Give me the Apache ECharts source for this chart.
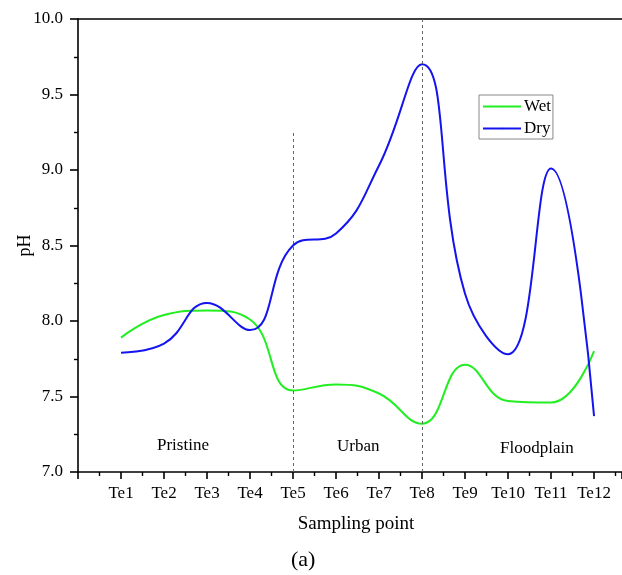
<!DOCTYPE html>
<html><head><meta charset="utf-8">
<script src="https://cdn.jsdelivr.net/npm/echarts@6/dist/echarts.min.js"></script>
<style>html,body{margin:0;padding:0;background:#fff}#c{width:622px;height:575px}</style>
</head><body><div id="c"></div>
<script>
const categories = ['Te1','Te2','Te3','Te4','Te5','Te6','Te7','Te8','Te9','Te10','Te11','Te12'];
const wet = [7.89, 8.04, 8.07, 8.01, 7.54, 7.58, 7.52, 7.32, 7.71, 7.47, 7.46, 7.80];
const dry = [7.79, 7.85, 8.12, 7.94, 8.50, 8.58, 9.03, 9.70, 8.18, 7.78, 9.01, 7.37];
const yTicks = [7.0, 7.5, 8.0, 8.5, 9.0, 9.5, 10.0];
const regions = ['Pristine', 'Urban', 'Floodplain'];

const font = 'Liberation Serif, Times New Roman, serif';
const chart = echarts.init(document.getElementById('c'), null, {renderer:'canvas'});
const toPts = arr => arr.map((v,i)=>[i+1, v]);
chart.setOption({
  animation:false,
  textStyle:{fontFamily:font},
  grid:{left:78, right:0, top:19, bottom:103, containLabel:false, outerBoundsMode:'none'},
  legend:{
    data:['Wet','Dry'], orient:'vertical', left:479, top:95,
    itemWidth:38, itemHeight:2, itemGap:5,
    borderColor:'#888', borderWidth:1, padding:[3,2,2,3], borderRadius:0,
    textStyle:{fontFamily:font, fontSize:17, color:'#000', padding:[0,0,0,-2]}
  },
  xAxis:[{
    type:'value', min:0, max:12.65, interval:1,
    axisLine:{lineStyle:{color:'#000', width:1.6}},
    axisTick:{inside:false, length:7, lineStyle:{color:'#000', width:1.6}},
    minorTick:{show:true, splitNumber:2, length:4, lineStyle:{color:'#000', width:1.4}},
    splitLine:{show:false},
    axisLabel:{margin:13, fontSize:17, color:'#000', fontFamily:font,
      showMaxLabel:false,
      formatter:v => (v>=1 && v<=12 && Number.isInteger(v)) ? categories[v-1] : ''},
    name:'Sampling point', nameLocation:'middle', nameGap:43,
    nameTextStyle:{fontSize:19, color:'#000', fontFamily:font, padding:[0,0,0,12]}
  },{
    type:'value', position:'top', min:0, max:12.65,
    axisLine:{lineStyle:{color:'#000', width:1.6}},
    axisTick:{show:false}, axisLabel:{show:false}, splitLine:{show:false}
  }],
  yAxis:{
    type:'value', min:yTicks[0], max:yTicks[yTicks.length-1], interval:0.5,
    axisLine:{show:true, lineStyle:{color:'#000', width:1.6}},
    axisTick:{show:true, length:8, lineStyle:{color:'#000', width:1.6}},
    minorTick:{show:true, splitNumber:2, length:4, lineStyle:{color:'#000', width:1.4}},
    splitLine:{show:false},
    axisLabel:{margin:15, fontSize:17, color:'#000', fontFamily:font, formatter:v=>v.toFixed(1)},
    name:'pH', nameLocation:'middle', nameGap:44, nameMoveOverlap:false,
    nameTextStyle:{fontSize:18, color:'#000', fontFamily:font}
  },
  series:[
    {name:'Wet', type:'line', data:toPts(wet), smooth:0.45, symbol:'none',
     lineStyle:{color:'#22ee22', width:2}, itemStyle:{color:'#22ee22'},
     markLine:{silent:true, symbol:'none', label:{show:false},
       lineStyle:{color:'#666', type:[3,3], width:1},
       data:[[{coord:[5,7]},{coord:[5,9.26]}],[{coord:[8,7]},{coord:[8,10]}]]}
    },
    {name:'Dry', type:'line', data:toPts(dry), smooth:0.45, symbol:'none',
     lineStyle:{color:'#1414ee', width:2}, itemStyle:{color:'#1414ee'}}
  ],
  graphic:[
    {type:'text', left:157, top:437, style:{text:regions[0], font:'17px '+font, fill:'#000'}},
    {type:'text', left:337, top:438, style:{text:regions[1], font:'17px '+font, fill:'#000'}},
    {type:'text', left:500, top:440, style:{text:regions[2], font:'17px '+font, fill:'#000'}},
    {type:'text', left:291, top:549, style:{text:'(a)', font:'22px '+font, fill:'#000'}}
  ]
});
</script></body></html>
